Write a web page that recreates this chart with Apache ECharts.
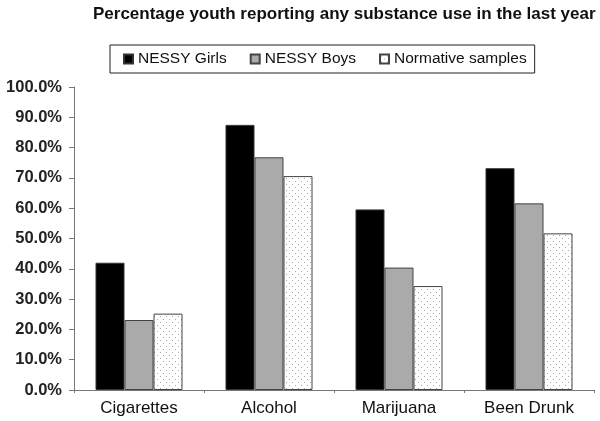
<!DOCTYPE html>
<html><head><meta charset="utf-8">
<script src="https://cdn.jsdelivr.net/npm/echarts@6/dist/echarts.min.js"></script>
<style>html,body{margin:0;padding:0;background:#fff}#c{width:600px;height:421px}</style>
</head><body><div id="c"></div>
<script>
var categories = ['Cigarettes', 'Alcohol', 'Marijuana', 'Been Drunk'];
var girls = [42.0, 87.5, 59.6, 73.2];
var boys = [23.1, 76.8, 40.4, 61.6];
var normative = [25.2, 70.6, 34.3, 51.7];
var seriesNames = ['NESSY Girls', 'NESSY Boys', 'Normative samples'];
var titleText = 'Percentage youth reporting any substance use in the last year';

var pc = document.createElement('canvas');
pc.width = 6; pc.height = 6;
var g = pc.getContext('2d');
g.fillStyle = '#fff'; g.fillRect(0,0,6,6);
g.fillStyle = '#a8a8a8';
g.fillRect(1,1,1,1); g.fillRect(4,4,1,1);

var chart = echarts.init(document.getElementById('c'));
var font = 'Liberation Sans, Arial, sans-serif';
chart.setOption({
  animation: false,
  backgroundColor: '#fff',
  title: { text: titleText, left: 88, top: 1,
    textStyle: { fontFamily: font, fontSize: 17, fontWeight: 'bold', color: '#111' } },
  legend: {
    left: 110, top: 45,
    borderColor: '#222', borderWidth: 1, padding: [6, 8, 6, 13],
    itemWidth: 9, itemHeight: 9, itemGap: 23, icon: 'rect',
    textStyle: { fontFamily: font, fontSize: 15.5, color: '#111' },
    data: seriesNames
  },
  grid: { left: 74, right: 6, top: 87, bottom: 31, containLabel: false },
  xAxis: {
    type: 'category', data: categories,
    axisLine: { lineStyle: { color: '#777', width: 1 } },
    axisTick: { show: true, alignWithLabel: false, length: 3, lineStyle: { color: '#777' } },
    axisLabel: { fontFamily: font, fontSize: 17, color: '#111', margin: 10 }
  },
  yAxis: {
    type: 'value', min: 0, max: 100, interval: 10,
    axisLine: { show: true, lineStyle: { color: '#777', width: 1 } },
    axisTick: { show: true, inside: false, length: 5, lineStyle: { color: '#777' } },
    splitLine: { show: false },
    axisLabel: { fontFamily: font, fontSize: 16.5, fontWeight: 'bold', color: '#222', margin: 12,
      formatter: function (v) { return v.toFixed(1) + '%'; } }
  },
  series: [
    { name: seriesNames[0], type: 'bar', data: girls, barWidth: 29, barGap: '0%',
      itemStyle: { color: '#000', borderColor: '#333', borderWidth: 1 } },
    { name: seriesNames[1], type: 'bar', data: boys, barWidth: 29, barGap: '0%',
      itemStyle: { color: '#aaaaaa', borderColor: '#444', borderWidth: 1 } },
    { name: seriesNames[2], type: 'bar', data: normative, barWidth: 29, barGap: '0%',
      itemStyle: { color: { image: pc, repeat: 'repeat' }, borderColor: '#444', borderWidth: 1 } }
  ]
});
</script></body></html>
